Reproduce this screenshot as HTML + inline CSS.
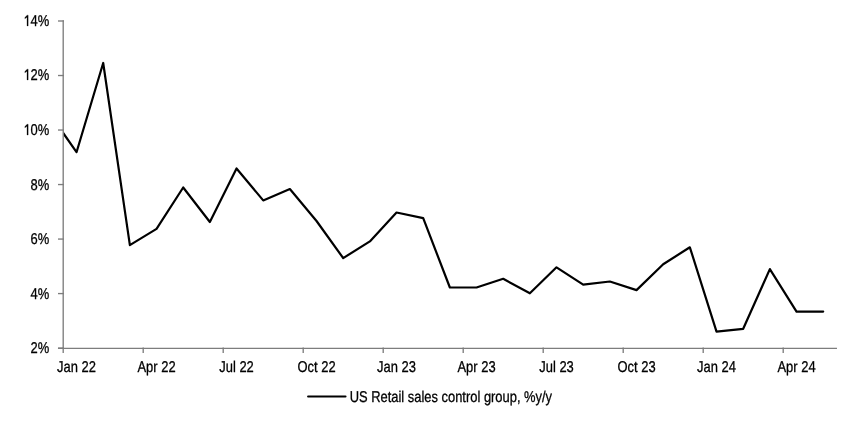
<!DOCTYPE html>
<html><head><meta charset="utf-8"><style>
html,body{margin:0;padding:0;background:#fff;width:852px;height:423px;overflow:hidden}
svg{display:block}
text{font-family:"Liberation Sans",sans-serif;font-size:15.6px;fill:#000;stroke:#000;stroke-width:0.3px;text-rendering:geometricPrecision}
</style></head><body>
<svg width="852" height="423" viewBox="0 0 852 423">
<defs><clipPath id="c"><rect x="63.2" y="0" width="800" height="423"/></clipPath></defs>
<path clip-path="url(#c)" d="M49.87,113.80 L76.53,152.20 L103.20,63.00 L129.87,245.10 L156.53,228.90 L183.20,187.50 L209.87,222.00 L236.53,168.50 L263.20,200.40 L289.87,189.00 L316.53,221.00 L343.20,258.10 L369.87,241.40 L396.53,212.50 L423.20,218.10 L449.87,287.50 L476.53,287.50 L503.20,278.80 L529.87,293.30 L556.53,267.30 L583.20,284.60 L609.87,281.50 L636.53,290.10 L663.20,264.20 L689.87,247.30 L716.53,331.60 L743.20,328.80 L769.87,269.10 L796.53,311.60 L823.20,311.60" fill="none" stroke="#000" stroke-width="2.2" stroke-linejoin="round" stroke-linecap="round"/>
<g stroke="#7d7d7d" stroke-width="1.35" fill="none" stroke-linecap="square">
<line x1="63.2" y1="21.0" x2="63.2" y2="348.1"/>
<line x1="58.65" y1="348.3" x2="836.30" y2="348.3"/>
<line x1="58.65" y1="21.00" x2="63.2" y2="21.00"/><line x1="58.65" y1="75.52" x2="63.2" y2="75.52"/><line x1="58.65" y1="130.03" x2="63.2" y2="130.03"/><line x1="58.65" y1="184.55" x2="63.2" y2="184.55"/><line x1="58.65" y1="239.07" x2="63.2" y2="239.07"/><line x1="58.65" y1="293.58" x2="63.2" y2="293.58"/><line x1="58.65" y1="348.10" x2="63.2" y2="348.10"/>
<line x1="63.20" y1="348.1" x2="63.20" y2="352.2"/><line x1="143.20" y1="348.1" x2="143.20" y2="352.2"/><line x1="223.20" y1="348.1" x2="223.20" y2="352.2"/><line x1="303.20" y1="348.1" x2="303.20" y2="352.2"/><line x1="383.20" y1="348.1" x2="383.20" y2="352.2"/><line x1="463.20" y1="348.1" x2="463.20" y2="352.2"/><line x1="543.20" y1="348.1" x2="543.20" y2="352.2"/><line x1="623.20" y1="348.1" x2="623.20" y2="352.2"/><line x1="703.20" y1="348.1" x2="703.20" y2="352.2"/><line x1="783.20" y1="348.1" x2="783.20" y2="352.2"/>
</g>
<g style="will-change:transform">
<g transform="translate(49.20,25.90) scale(0.83,1)"><text text-anchor="end">4%</text><path transform="translate(-31.223,0) scale(0.007617,-0.007617)" d="M590 0V1150L250 945V1115L610 1409H770V0Z" stroke="#000" stroke-width="39.38"/></g><g transform="translate(49.20,79.92) scale(0.83,1)"><text text-anchor="end">2%</text><path transform="translate(-31.223,0) scale(0.007617,-0.007617)" d="M590 0V1150L250 945V1115L610 1409H770V0Z" stroke="#000" stroke-width="39.38"/></g><g transform="translate(49.20,135.03) scale(0.83,1)"><text text-anchor="end">0%</text><path transform="translate(-31.223,0) scale(0.007617,-0.007617)" d="M590 0V1150L250 945V1115L610 1409H770V0Z" stroke="#000" stroke-width="39.38"/></g><text transform="translate(49.20,189.75) scale(0.83,1)" text-anchor="end">8%</text><text transform="translate(49.20,244.27) scale(0.83,1)" text-anchor="end">6%</text><text transform="translate(49.20,298.78) scale(0.83,1)" text-anchor="end">4%</text><text transform="translate(49.20,353.30) scale(0.83,1)" text-anchor="end">2%</text>
<text transform="translate(76.53,371.70) scale(0.83,1)" text-anchor="middle">Jan 22</text><text transform="translate(156.53,371.70) scale(0.83,1)" text-anchor="middle">Apr 22</text><text transform="translate(236.53,371.70) scale(0.83,1)" text-anchor="middle">Jul 22</text><text transform="translate(316.53,371.70) scale(0.83,1)" text-anchor="middle">Oct 22</text><text transform="translate(396.53,371.70) scale(0.83,1)" text-anchor="middle">Jan 23</text><text transform="translate(476.53,371.70) scale(0.83,1)" text-anchor="middle">Apr 23</text><text transform="translate(556.53,371.70) scale(0.83,1)" text-anchor="middle">Jul 23</text><text transform="translate(636.53,371.70) scale(0.83,1)" text-anchor="middle">Oct 23</text><text transform="translate(716.53,371.70) scale(0.83,1)" text-anchor="middle">Jan 24</text><text transform="translate(796.53,371.70) scale(0.83,1)" text-anchor="middle">Apr 24</text>
<text transform="translate(349.70,401.70) scale(0.828,1)" text-anchor="start">US Retail sales control group, %y/y</text>
</g>
<line x1="308.1" y1="396.5" x2="345.5" y2="396.5" stroke="#000" stroke-width="2.1" stroke-linecap="round"/>
</svg>
</body></html>
